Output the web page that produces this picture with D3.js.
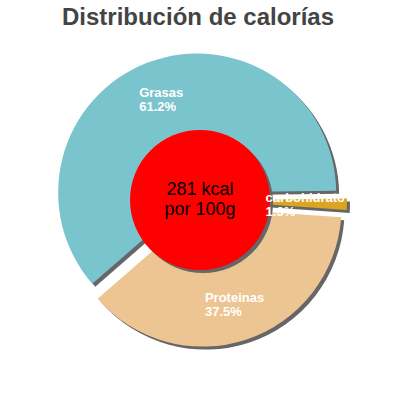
<!DOCTYPE html>
<html>
<head>
<meta charset="utf-8">
<script src="https://cdn.jsdelivr.net/npm/d3@7"></script>
<style>
  body { margin: 0; background: #fff; }
  text { font-family: "Liberation Sans", Arial, sans-serif; }
</style>
</head>
<body>
<svg id="pie-chart"></svg>
<script>
const labels = ["Grasas", "carbohidratos", "Proteinas"];
const values = [61.2, 1.3, 37.5];
const colors = ["#7ac4cd", "#daa520", "#edc592"];
const centerLines = ["281 kcal", "por 100g"];
const title = "Distribución de calorías";

const width = 400,
  height = 400,
  cx = 200,
  cy = 200,
  radius = 139,
  innerCircle = 70,
  explode = 8,
  labelRadius = 101;

const svg = d3
  .select("#pie-chart")
  .attr("width", width)
  .attr("height", height);

svg
  .append("text")
  .attr("x", 198)
  .attr("y", 25)
  .attr("text-anchor", "middle")
  .style("font-size", "24px")
  .style("font-weight", "bold")
  .style("fill", "#444")
  .text(title);

const start = (-131 * Math.PI) / 180;
const pie = d3
  .pie()
  .sort(null)
  .startAngle(start)
  .endAngle(start + 2 * Math.PI);

const arcs = pie(values).map((d, i) => {
  const mid = (d.startAngle + d.endAngle) / 2;
  return {
    ...d,
    label: labels[i],
    color: colors[i],
    mid: mid,
    dx: explode * Math.sin(mid),
    dy: -explode * Math.cos(mid),
  };
});

const arc = d3.arc().innerRadius(0).outerRadius(radius);

const g = svg.append("g").attr("transform", `translate(${cx},${cy})`);

// shadows first, then the slices
g.selectAll(".shadow")
  .data(arcs)
  .enter()
  .append("path")
  .attr("class", "shadow")
  .attr("transform", (d) => `translate(${d.dx + 3},${d.dy + 3})`)
  .attr("d", arc)
  .attr("fill", "#666");

g.selectAll(".slice")
  .data(arcs)
  .enter()
  .append("path")
  .attr("class", "slice")
  .attr("transform", (d) => `translate(${d.dx},${d.dy})`)
  .attr("d", arc)
  .attr("fill", (d) => d.color);

// center disc
g.append("circle").attr("cx", 3).attr("cy", 3).attr("r", innerCircle).attr("fill", "#666");
g.append("circle").attr("r", innerCircle).attr("fill", "#ff0000");

g.selectAll(".center-text")
  .data(centerLines)
  .enter()
  .append("text")
  .attr("class", "center-text")
  .attr("x", 0)
  .attr("y", (d, i) => -5 + i * 20)
  .attr("text-anchor", "middle")
  .style("font-size", "18px")
  .style("fill", "#000")
  .text((d) => d);

// labels, clipped at the plot edge
svg
  .append("clipPath")
  .attr("id", "plot-clip")
  .append("rect")
  .attr("x", -cx)
  .attr("y", -cy)
  .attr("width", 344)
  .attr("height", height);

const labelLayer = g.append("g").attr("clip-path", "url(#plot-clip)");

arcs.forEach((d) => {
  const px = d.dx + labelRadius * Math.sin(d.mid);
  const py = d.dy - labelRadius * Math.cos(d.mid);
  const lab = labelLayer
    .append("text")
    .style("font-size", "13px")
    .style("font-weight", "bold")
    .style("fill", "#fff");
  lab.append("tspan").attr("y", py - 1).text(d.label);
  lab.append("tspan").attr("y", py + 12.5).text(d3.format(".1f")(d.value) + "%");
  const w = d3.max(lab.selectAll("tspan").nodes(), (n) => n.getComputedTextLength());
  lab.selectAll("tspan").attr("x", px - w / 2);
});
</script>
</body>
</html>
